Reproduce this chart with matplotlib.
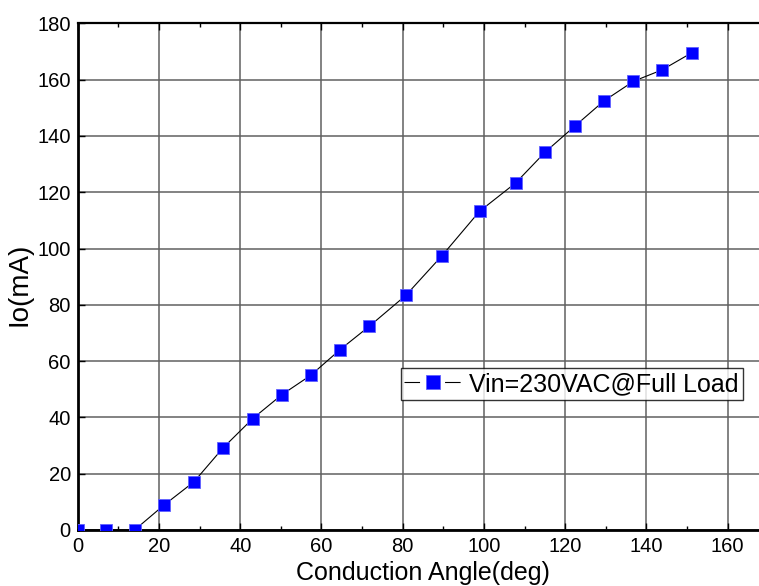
import matplotlib
matplotlib.use("Agg")
import matplotlib.pyplot as plt
from matplotlib.lines import Line2D
from matplotlib.ticker import MultipleLocator

angle = [0, 7, 14, 21.2, 28.6, 35.8, 43.1, 50.2, 57.4, 64.6, 71.8, 80.8,
         89.7, 98.9, 107.8, 115.1, 122.3, 129.5, 136.8, 143.9, 151.1]
io_ma = [0, 0, 0, 8.8, 17.1, 29.2, 39.6, 48.0, 55.0, 64.1, 72.4, 83.4,
         97.5, 113.2, 123.3, 134.3, 143.4, 152.4, 159.4, 163.5, 169.5]
series_label = "Vin=230VAC@Full Load"
x_label = "Conduction Angle(deg)"
y_label = "Io(mA)"

plt.rcParams['font.family'] = ['Liberation Sans', 'DejaVu Sans']

fig = plt.figure(figsize=(7.59, 5.86), dpi=100)
ax = fig.add_axes([0.1024, 0.0956, 0.8976, 0.8646])

ax.plot(angle, io_ma, color='black', linewidth=0.8, marker='s',
        markersize=9, markerfacecolor='#0000ff', markeredgecolor='#6060ff',
        markeredgewidth=0.6, clip_on=True, zorder=3)

ax.set_xlim(0, 167.7)
ax.set_ylim(0, 180)
ax.xaxis.set_major_locator(MultipleLocator(20))
ax.xaxis.set_minor_locator(MultipleLocator(10))
ax.yaxis.set_major_locator(MultipleLocator(20))
ax.yaxis.set_minor_locator(MultipleLocator(10))
ax.grid(True, which='major', color='#606060', linewidth=1.1)
ax.set_axisbelow(True)

ax.tick_params(which='both', direction='in', top=True, right=False,
               labelsize=14.5, pad=5)
ax.tick_params(which='major', length=5, width=1)
ax.tick_params(which='minor', length=3, width=1, left=False)

for side in ['left', 'bottom']:
    ax.spines[side].set_linewidth(2)
ax.spines['top'].set_linewidth(1.6)
ax.spines['right'].set_visible(False)

ax.set_xlabel(x_label, fontsize=18)
ax.xaxis.set_label_coords(0.506, -0.061)
ax.set_ylabel(y_label, fontsize=20)
ax.yaxis.set_label_coords(-0.066, 0.485)

# legend proxy: line segments either side of the marker, with gaps
proxy = Line2D([], [], color='black', linewidth=0.8, dashes=(14, 22.5),
               marker='s', markersize=10, markerfacecolor='#0000ff',
               markeredgecolor='#6060ff', markeredgewidth=0.6)
leg = ax.legend([proxy], [series_label], loc='upper right',
                bbox_to_anchor=(742.7 / 759, 1 - 368.3 / 586),
                bbox_transform=fig.transFigure, fontsize=18, frameon=True,
                fancybox=False, edgecolor='black', handlelength=2.3,
                handletextpad=0.3, borderpad=0.15, borderaxespad=0)
leg.get_frame().set_linewidth(1)

fig.savefig("out.png", dpi=100)
